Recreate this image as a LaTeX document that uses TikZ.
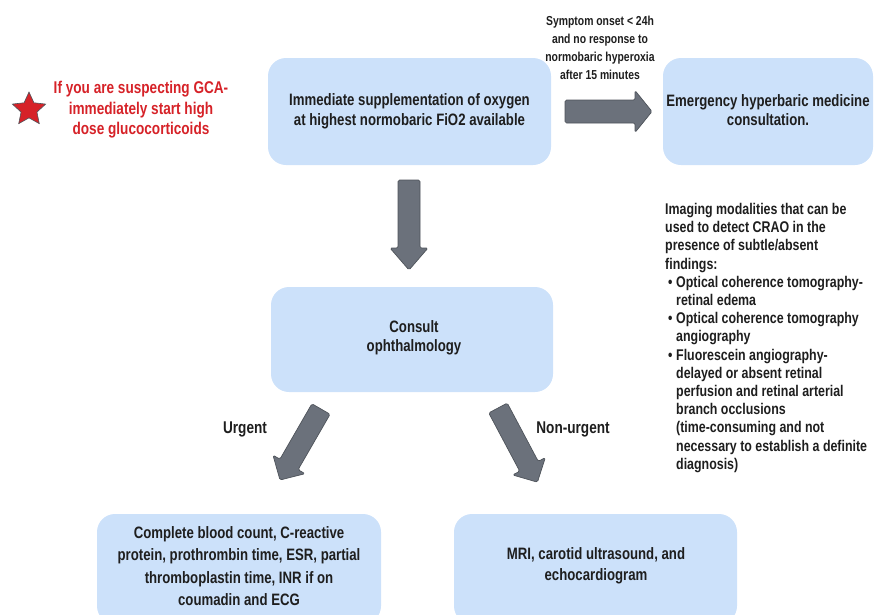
\documentclass[tikz,border=0pt]{standalone}
\usepackage{fontspec}
\setmainfont{Liberation Sans}[FakeStretch=0.8]
\usetikzlibrary{shapes.geometric}
\definecolor{boxblue}{RGB}{204,225,250}
\definecolor{arrgrey}{RGB}{107,113,123}
\definecolor{arredge}{RGB}{78,83,90}
\definecolor{txt}{RGB}{30,30,30}
\definecolor{alertred}{RGB}{214,34,40}
\tikzset{
  box/.style={fill=boxblue, draw=none, rounded corners=18pt, inner sep=0pt},
  boxtext/.style={align=center, text=txt, font=\fontsize{16.5}{19.5}\selectfont\bfseries},
  lbl/.style={align=center, text=txt, font=\fontsize{13}{18}\selectfont\bfseries},
  blockarrow/.style={fill=arrgrey, draw=arredge, line width=0.7pt, rounded corners=1.5pt, line join=round}
}
% #1 length, #2 shaft width, #3 head width, #4 head length
\newcommand{\myarrowpath}[4]{(0,-#2/2) -- (#1-#4,-#2/2) -- (#1-#4,-#3/2) -- (#1,0) -- (#1-#4,#3/2) -- (#1-#4,#2/2) -- (0,#2/2) -- cycle}
\begin{document}
\begin{tikzpicture}[x=1pt,y=-1pt]
\useasboundingbox (0,0) rectangle (874,614);
\clip (0,0) rectangle (874,614);
% boxes
\node[box, minimum width=283pt, minimum height=107pt] (b1) at (409.5,111.5) {};
\node[boxtext] (t1) at (b1.center) {Immediate supplementation of oxygen\\at highest normobaric FiO2 available};
\node[box, minimum width=210pt, minimum height=107pt] (b2) at (768,111.5) {};
\node[boxtext] (t2) at (768,110) {Emergency hyperbaric medicine\\consultation.};
\node[box, minimum width=282pt, minimum height=105pt] (b3) at (412,339.5) {};
\node[boxtext] (t3) at (414,338) {Consult\\ophthalmology};
\node[box, minimum width=284pt, minimum height=110pt] (b4) at (239,569) {};
\node[boxtext, font=\fontsize{16.5}{22.5}\selectfont\bfseries] (t4) at (239,566) {Complete blood count, C-reactive\\protein, prothrombin time, ESR, partial\\thromboplastin time, INR if on\\coumadin and ECG};
\node[box, minimum width=283pt, minimum height=110pt] (b5) at (595.5,569) {};
\node[boxtext, font=\fontsize{16.5}{21}\selectfont\bfseries] (t5) at (596,566) {MRI, carotid ultrasound, and\\echocardiogram};
% alert
\node[star, star points=5, star point ratio=2.1, fill=alertred, draw=arredge, line width=0.6pt, minimum size=35pt, inner sep=0pt] (star) at (29,109.5) {};
\node[boxtext, text=alertred, font=\fontsize{17}{20.5}\selectfont\bfseries] (alert) at (141,110) {If you are suspecting GCA-\\immediately start high\\dose glucocorticoids};
% labels
\node[lbl] (sym) at (600,48) {Symptom onset < 24h\\and no response to\\normobaric hyperoxia\\after 15 minutes};
\node[lbl, font=\fontsize{17}{18}\selectfont\bfseries] (urg) at (245,429) {Urgent};
\node[lbl, font=\fontsize{17}{18}\selectfont\bfseries] (nurg) at (573,429) {Non-urgent};
\node[lbl, align=left, anchor=north west, inner sep=0pt, font=\fontsize{15.5}{18.2}\selectfont\bfseries] (img) at (665,203) {Imaging modalities that can be\\used to detect CRAO in the\\presence of subtle/absent\\findings:\\
\hspace*{3pt}\makebox[8pt][l]{•}Optical coherence tomography-\\
\hspace*{11pt}retinal edema\\
\hspace*{3pt}\makebox[8pt][l]{•}Optical coherence tomography\\
\hspace*{11pt}angiography\\
\hspace*{3pt}\makebox[8pt][l]{•}Fluorescein angiography-\\
\hspace*{11pt}delayed or absent retinal\\
\hspace*{11pt}perfusion and retinal arterial\\
\hspace*{11pt}branch occlusions\\
\hspace*{11pt}(time-consuming and not\\
\hspace*{11pt}necessary to establish a definite\\
\hspace*{11pt}diagnosis)};
% block arrows
\coordinate (a1) at (565,111.5);
\coordinate (a2) at (409,180);
\coordinate (a3) at (321,409);
\coordinate (a4) at (498,408);
\draw[blockarrow, shift={(a1)}] \myarrowpath{87}{23}{42}{17};
\draw[blockarrow, shift={(a2)}, rotate=-90] \myarrowpath{90}{22}{38}{22};
\draw[blockarrow, shift={(a3)}, rotate=-120] \myarrowpath{82}{21}{37}{18};
\draw[blockarrow, shift={(a4)}, rotate=-62] \myarrowpath{84}{21}{37}{18};
\end{tikzpicture}
\end{document}
